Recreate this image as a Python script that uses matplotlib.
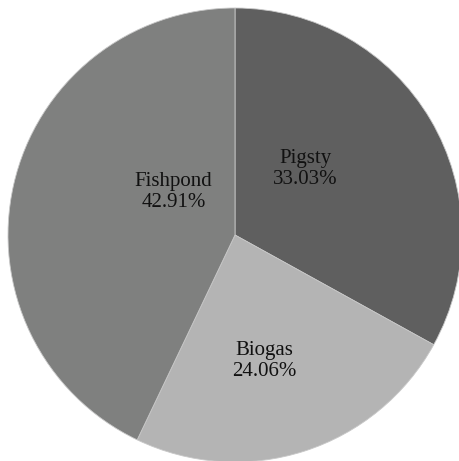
import matplotlib.pyplot as plt

# data
labels = ["Pigsty", "Biogas", "Fishpond"]
shares = [33.03, 24.06, 42.91]
colors = ["#5f5f5f", "#b4b4b4", "#7f807f"]

# where each label sits (axes data units, radius = 1)
label_pos = [(0.31, 0.29), (0.13, -0.555), (-0.27, 0.19)]

fig = plt.figure(figsize=(4.59, 4.61), dpi=100)
ax = fig.add_axes([8 / 459, -1 / 461, 454 / 459, 454 / 461])

ax.pie(shares, colors=colors, startangle=90, counterclock=False,
       wedgeprops=dict(edgecolor="#c8c8c8", linewidth=0.6))

for name, val, (x, y) in zip(labels, shares, label_pos):
    ax.text(x, y, f"{name}\n{val:.2f}%", ha="center", va="center",
            fontsize=15, family="Liberation Serif", color="#111111",
            linespacing=1.1)

ax.set_xlim(-1, 1)
ax.set_ylim(-1, 1)
ax.set_aspect("equal")
ax.axis("off")

fig.savefig("out.png", dpi=100)
